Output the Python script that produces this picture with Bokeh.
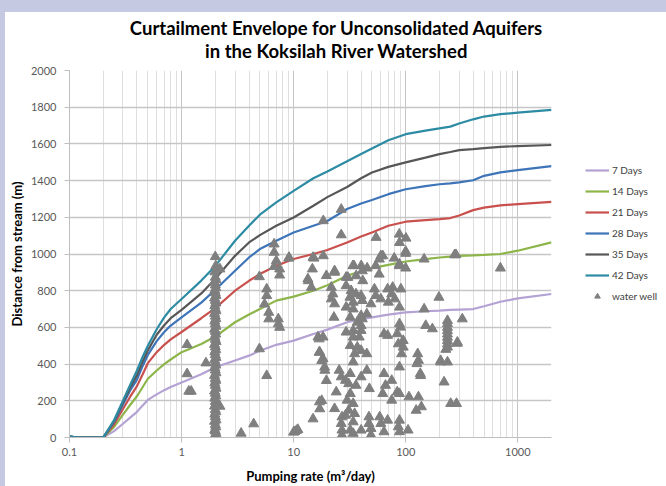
from bokeh.plotting import figure
from bokeh.models import (Range1d, FixedTicker, NumeralTickFormatter, Legend, LegendItem,
                          Spacer, ColumnDataSource)
from bokeh.core.properties import value
from bokeh.layouts import column, row
from bokeh.embed import file_html
from bokeh.resources import INLINE

# ---------------- data ----------------
pump_rate = [0.1, 0.12, 0.2, 0.25, 0.3, 0.35, 0.4, 0.45, 0.5, 0.6, 0.7, 0.8, 1, 1.5, 2, 3, 4, 5, 7, 10,
             15, 20, 30, 40, 50, 70, 100, 150, 200, 250, 300, 400, 500, 700, 1000, 2000]
days_7 = [5, 0, 0, 35, 75, 110, 140, 175, 205, 235, 258, 275, 300, 345, 383, 420, 446, 473, 505, 528,
          564, 588, 628, 645, 655, 670, 682, 688, 691, 695, 697, 700, 715, 740, 758, 782]
days_14 = [5, 0, 0, 58, 125, 180, 225, 275, 320, 365, 400, 425, 465, 510, 550, 628, 670, 700, 746, 768,
           800, 830, 882, 905, 923, 941, 959, 972, 981, 986, 990, 992, 995, 1000, 1018, 1063]
days_21 = [5, 0, 0, 72, 155, 225, 280, 345, 405, 465, 505, 535, 575, 650, 705, 800, 854, 891, 936, 973,
           1000, 1022, 1063, 1095, 1117, 1154, 1176, 1185, 1190, 1196, 1210, 1239, 1253, 1265, 1272, 1284]
days_28 = [5, 0, 0, 85, 180, 260, 315, 390, 450, 525, 575, 610, 655, 735, 805, 909, 981, 1027, 1072, 1117,
           1154, 1180, 1245, 1275, 1294, 1326, 1353, 1370, 1380, 1385, 1390, 1402, 1426, 1445, 1457, 1479]
days_35 = [5, 0, 0, 90, 190, 275, 340, 415, 475, 560, 612, 650, 695, 785, 865, 990, 1063, 1103, 1154, 1199,
           1263, 1310, 1365, 1413, 1444, 1475, 1499, 1525, 1544, 1556, 1566, 1572, 1577, 1584, 1588, 1594]
days_42 = [5, 0, 0, 95, 200, 290, 365, 440, 500, 590, 655, 700, 755, 855, 935, 1072, 1154, 1214, 1281, 1344,
           1413, 1450, 1505, 1545, 1575, 1620, 1653, 1672, 1685, 1694, 1711, 1734, 1749, 1762, 1770, 1785]

series_labels = ["7 Days", "14 Days", "21 Days", "28 Days", "35 Days", "42 Days"]
well_label = "water well"
title_lines = ["Curtailment Envelope for Unconsolidated Aquifers", "in the Koksilah River Watershed"]

# wells recorded at ~2 m3/day (dense column)
well_col_q = [2.0, 1.97, 2.03, 2.0, 1.98, 2.02, 2.0, 1.97, 2.03, 2.0, 1.98, 2.02, 2.0, 1.97, 2.03, 2.0,
              1.98, 2.02, 2.0, 1.97, 2.03, 2.0, 1.98, 2.02, 2.0, 1.97, 2.03, 2.0, 1.98, 2.02, 2.0, 1.97,
              2.03, 2.0, 1.98, 2.02, 2.0, 1.97, 2.03, 2.0, 1.98, 2.02, 2.0, 1.97, 2.03, 2.0, 1.98, 2.02,
              2.0, 1.97, 2.03, 2.0, 1.98, 2.02, 2.0, 1.97, 2.03, 2.0, 1.98, 2.02, 2.0, 1.97, 2.03, 2.0,
              1.98, 2.02, 2.0]
well_col_d = [0, 8, 22, 35, 41, 57, 70, 88, 96, 113, 127, 140, 152, 171, 183, 196, 214, 226, 241, 253,
              268, 284, 297, 311, 322, 338, 352, 367, 380, 394, 409, 423, 436, 451, 466, 478, 493, 507,
              522, 535, 549, 563, 578, 590, 606, 619, 634, 647, 661, 676, 690, 703, 718, 732, 747, 760,
              774, 789, 802, 816, 831, 846, 859, 873, 902, 935, 985]

# other wells
well_q = [1.12, 1.65, 1.12, 1.16, 1.22, 2.2, 2.2, 3.4, 4.4, 4.95, 5.75, 4.95, 5.75, 5.75, 5.5, 6.0, 6.0,
          6.7, 6.7, 7.0, 6.7, 7.5, 7.5, 7.3, 7.3, 7.5, 9.1, 10.0, 10.6,
          14.9, 18.4, 18.4, 14.7, 13.4, 14.4, 19.6, 16.9, 16.9, 17.8, 18.9, 19.6, 17.8, 17.1, 14.9,
          9.06, 15.2, 13.5, 16.5, 18.3, 17.1, 18.3, 19.0, 17.0, 10.2, 10.9,
          26.6, 26.6, 54.4, 87.7, 100.5, 88, 100, 23.2, 34.5, 40.1, 45.3, 58.2, 62.4, 79, 88, 100,
          146, 273, 21.7, 30.5, 36.1, 41.4, 58, 41, 22.4, 21.7, 23.2, 29.4, 32.6, 36, 31.8, 34, 40,
          41, 29.4, 34, 52.6, 54, 60, 69, 76.5, 90.6, 75, 80, 70, 49, 88, 40, 45, 32, 22.9, 37,
          198, 146, 320, 236, 236, 236, 236, 236, 236, 236, 236, 236, 151, 173, 289, 205, 236, 220,
          252, 284, 26.6, 27, 23.2, 24, 25.5, 26.6, 29, 32, 34, 35, 32, 37, 40, 45, 34, 40, 38.5,
          40, 41, 29.4, 34, 31, 36, 40, 45, 32, 30, 34, 31, 35, 29, 34, 32, 27, 47.4, 47, 49, 58.6,
          62.4, 66, 75, 64, 88, 92, 86, 84, 69, 64, 88, 90, 95, 95, 128, 130, 126, 135, 130, 138,
          124, 107, 84, 75, 88, 86, 88, 64, 60, 47, 69, 49, 40, 34, 27, 88, 105, 700, 281, 60,
          100, 33.8, 54, 87.5, 23.2, 29.4, 228, 289, 205, 136]
well_d = [506, 406, 347, 252, 252, 918, 170, 23, 74, 483, 337, 876, 809, 773, 727, 682, 646,
          1054, 1009, 963, 931, 918, 885, 646, 619, 600, 981, 29, 38,
          981, 990, 1181, 918, 864, 818, 882, 537, 464, 419, 383, 310, 201, 156, 101,
          977, 977, 854, 547, 547, 465, 429, 366, 194, 31, 43,
          1243, 1104, 1090, 1108, 1086, 1062, 1014, 908, 936, 936, 923, 972, 990, 977, 945, 923,
          972, 995, 818, 872, 881, 854, 890, 908, 782, 755, 728, 827, 800, 782, 764, 737, 773,
          746, 710, 700, 809, 773, 755, 809, 818, 809, 782, 755, 737, 728, 710, 664, 673, 655, 655, 628,
          764, 700, 646, 637, 620, 600, 582, 564, 546, 528, 510, 492, 610, 592, 519, 411, 411, 302,
          185, 185, 76, 112, 157, 248, 366, 330, 311, 348, 411, 456, 501, 492, 474, 456, 583, 583, 547,
          610, 646, 574, 547, 293, 284, 330, 366, 239, 203, 185, 148, 130, 121, 85, 40, 40, 266, 76, 49, 112,
          239, 284, 311, 348, 384, 456, 510, 565, 556, 565, 619, 601, 528, 492, 456, 420, 402, 348, 221, 167,
          148, 221, 248, 203, 239, 58, 31, 31, 76, 112, 94, 13, 40, 22, 13, 94, 40, 923, 996, 990,
          1003, 936, 936, 936, 900, 873, 480, 513, 419, 337]

# ---------------- style ----------------
FONT = "Lato"
COLORS = ["#b3a2d3", "#8db54a", "#c9504d", "#3e74b8", "#575757", "#2d8ca3"]
WELL_COLOR = "#7f7f7f"
BAND = "#c6c9e2"
series = [days_7, days_14, days_21, days_28, days_35, days_42]
wells = ColumnDataSource(dict(q=well_col_q + well_q, d=well_col_d + well_d))

# ---------------- title strip ----------------
TW, TH = 661, 50
tfig = figure(width=TW, height=TH, x_range=Range1d(0, TW), y_range=Range1d(0, TH),
              output_backend="svg", toolbar_location=None, min_border=0,
              border_fill_color="white", background_fill_color="white")
tfig.axis.visible = False
tfig.grid.visible = False
tfig.outline_line_color = None
tfig.text(x=[331, 331], y=[TH - 15, TH - 38], text=title_lines,
          text_align="center", text_baseline="middle", text_font=value(FONT),
          text_font_size="18.5px", text_font_style="bold", text_color="#000000")

# ---------------- main chart ----------------
W, H = 550, 424
p = figure(width=W, height=H, x_axis_type="log",
           x_range=Range1d(0.1, 2000), y_range=Range1d(0, 2000),
           output_backend="svg", toolbar_location=None,
           min_border_left=62, min_border_right=4, min_border_bottom=49, min_border_top=8,
           background_fill_color="white", border_fill_color="white")
p.outline_line_color = None

minor = []
for base in [0.1, 1, 10, 100, 1000]:
    for k in range(2, 10):
        minor.append(base * k)
p.xaxis.ticker = FixedTicker(ticks=[0.1, 1, 10, 100, 1000], minor_ticks=minor)
p.xaxis.formatter = NumeralTickFormatter(format="0.[0]")
p.yaxis.ticker = FixedTicker(ticks=list(range(0, 2001, 200)))

for ax in (p.xaxis, p.yaxis):
    ax.axis_line_color = "#bfbfbf"
    ax.major_tick_line_color = "#bfbfbf"
    ax.minor_tick_line_color = None
    ax.major_tick_out = 5
    ax.major_tick_in = 0
    ax.major_label_text_font = FONT
    ax.major_label_text_font_size = "11px"
    ax.major_label_text_color = "#595959"
    ax.axis_label_text_font = FONT
    ax.axis_label_text_font_size = "13px"
    ax.axis_label_text_font_style = "bold"
    ax.axis_label_text_color = "#000000"

p.xaxis.axis_label = "Pumping rate (m³/day)"
p.yaxis.axis_label = "Distance from stream (m)"
p.xaxis.major_label_standoff = 5
p.xaxis.axis_label_standoff = 9
p.yaxis.major_label_standoff = 8
p.yaxis.axis_label_standoff = 3

p.xgrid.grid_line_color = "#c6c6c6"
p.xgrid.minor_grid_line_color = "#dedede"
p.ygrid.grid_line_color = "#c6c6c6"
p.ygrid.grid_line_width = 1.5

for vals, col in zip(series, COLORS):
    p.line(pump_rate, vals, line_color=col, line_width=2.2)

p.scatter("q", "d", source=wells, marker="triangle", size=10,
          fill_color=WELL_COLOR, line_color=WELL_COLOR)

# ---------------- legend strip ----------------
# same series drawn on ranges that keep them out of view; they only feed the legend
LW = 661 - W
lfig = figure(width=LW, height=H, x_range=Range1d(-2, -1), y_range=Range1d(-2, -1),
              output_backend="svg", toolbar_location=None, min_border=0,
              border_fill_color="white", background_fill_color="white")
lfig.axis.visible = False
lfig.grid.visible = False
lfig.outline_line_color = None
leg_renderers = []
for vals, col in zip(series, COLORS):
    leg_renderers.append(lfig.line(pump_rate, vals, line_color=col, line_width=2.2))
leg_renderers.append(lfig.scatter("q", "d", source=wells, marker="triangle", size=7,
                                  fill_color=WELL_COLOR, line_color=WELL_COLOR))
items = [LegendItem(label=lab, renderers=[r])
         for lab, r in zip(series_labels + [well_label], leg_renderers)]
legend = Legend(items=items, location=(30, 134), padding=5, margin=0, spacing=7,
                glyph_width=24, glyph_height=14, label_height=14, label_standoff=3,
                label_text_font=FONT, label_text_font_size="10px", label_text_color="#404040",
                border_line_color=None, background_fill_alpha=0)
lfig.add_layout(legend, "center")

top = Spacer(width=666, height=12, styles={"background-color": BAND})
left = Spacer(width=5, height=TH + H, styles={"background-color": BAND})
layout = column(top, row(left, column(tfig, row(p, lfig, spacing=0), spacing=0), spacing=0), spacing=0)

open("out.html", "w").write(file_html(layout, INLINE))
